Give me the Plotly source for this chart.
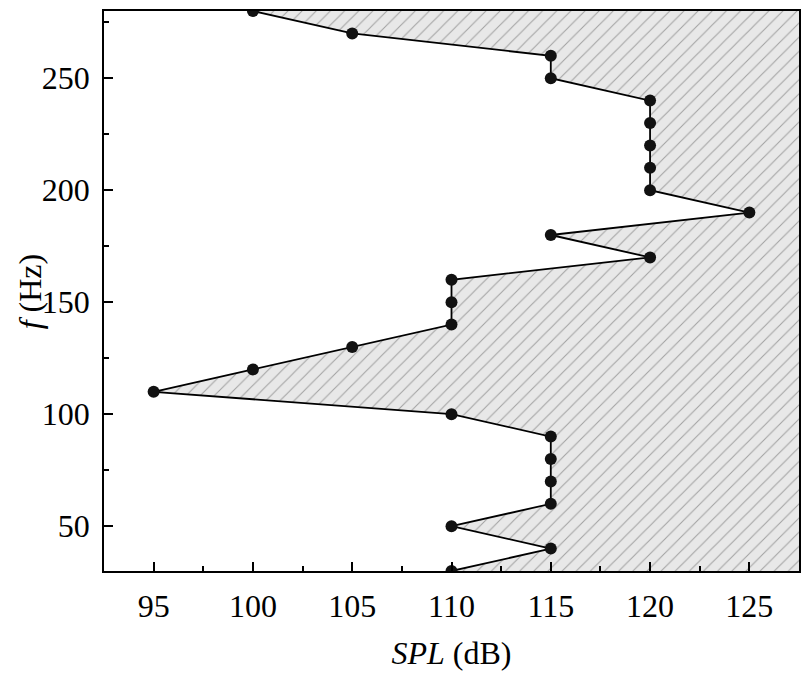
import plotly.graph_objects as go

# Sound pressure level per frequency band
freq = [30, 40, 50, 60, 70, 80, 90, 100, 110, 120, 130, 140, 150, 160,
        170, 180, 190, 200, 210, 220, 230, 240, 250, 260, 270, 280]
spl = [110, 115, 110, 115, 115, 115, 115, 110, 95, 100, 105, 110, 110, 110,
       120, 115, 125, 120, 120, 120, 120, 120, 115, 115, 105, 100]

x_range = [92.5, 127.5]
y_range = [30, 280]

font_family = 'Liberation Serif'


def main():
    fig = go.Figure()

    # invisible boundary on the right edge, fill goes from curve to it
    fig.add_trace(go.Scatter(x=[x_range[1]] * len(freq), y=freq,
                             mode='lines', line=dict(width=0),
                             hoverinfo='skip', showlegend=False))

    fig.add_trace(go.Scatter(x=spl, y=freq,
                             mode='lines+markers',
                             fill='tonextx',
                             fillcolor='#e8e8e8',
                             fillpattern=dict(shape='/', fgcolor='#5a5a5a',
                                              bgcolor='#e8e8e8', size=10,
                                              solidity=0.1),
                             line=dict(color='black', width=1.8),
                             marker=dict(size=12, color='#111111'),
                             showlegend=False))

    axis_common = dict(
        showline=True, linecolor='black', linewidth=1.5, mirror=True,
        ticks='inside', ticklen=9, tickwidth=1.5, tickcolor='black',
        showgrid=False, zeroline=False, ticklabelstandoff=6,
        tickfont=dict(family=font_family, size=32, color='black'),
    )

    fig.update_xaxes(range=x_range, dtick=5, tick0=95,
                     minor=dict(ticks='inside', ticklen=5, tickwidth=1.5,
                                tickcolor='black', dtick=2.5, tick0=92.5),
                     title=dict(text='<i>SPL</i> (dB)', standoff=18,
                                font=dict(family=font_family, size=32, color='black')),
                     **axis_common)
    fig.update_yaxes(range=y_range, dtick=50, tick0=50,
                     minor=dict(ticks='inside', ticklen=5, tickwidth=1.5,
                                tickcolor='black', dtick=25, tick0=25),
                     **axis_common)

    # y title as annotation so it sits further left, like the original
    fig.add_annotation(text='<i>f</i> (Hz)', xref='paper', yref='paper',
                       x=-0.106, y=0.5, xanchor='center', yanchor='middle',
                       textangle=-90, showarrow=False,
                       font=dict(family=font_family, size=32, color='black'))

    # page body adds ~8px offset, margins compensate
    fig.update_layout(width=809, height=677,
                      margin=dict(l=96, r=18, t=3, b=114, autoexpand=False),
                      plot_bgcolor='white', paper_bgcolor='white',
                      font=dict(family=font_family, color='black'))

    fig.write_html('out.html')


if __name__ == '__main__':
    main()
